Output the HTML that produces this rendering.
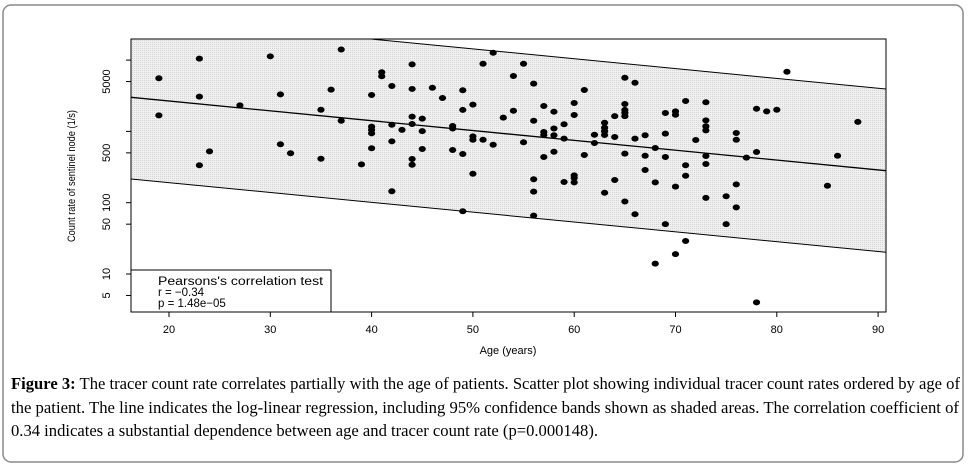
<!DOCTYPE html>
<html><head><meta charset="utf-8"><style>
html,body{margin:0;padding:0;background:#fff;width:969px;height:467px;overflow:hidden}
svg{display:block}
text{font-family:"Liberation Sans",sans-serif}
</style></head><body>
<svg id="chart" width="969" height="467" viewBox="0 0 969 467" xmlns="http://www.w3.org/2000/svg">
<defs>
<pattern id="dots" width="2" height="2" patternUnits="userSpaceOnUse"><rect width="2" height="2" fill="#f0f0f0"/><rect width="1" height="1" fill="#d4d4d4"/></pattern>
<clipPath id="plotclip"><rect x="131" y="39" width="755" height="273"/></clipPath>
</defs>
<rect x="3" y="5" width="960" height="457" rx="8" fill="#fff" stroke="#8a8a8a" stroke-width="1.5"/>
<g id="band" clip-path="url(#plotclip)"></g>
<g id="marks"></g>
<rect x="131" y="39" width="755" height="273" fill="none" stroke="#000" stroke-width="1"/>
<g id="axes"></g>
<text transform="translate(75,176) rotate(-90)" text-anchor="middle" font-size="11" textLength="132" lengthAdjust="spacingAndGlyphs">Count rate of sentinel node (1/s)</text>
<text x="508" y="354" text-anchor="middle" font-size="11">Age (years)</text>
<g>
<rect x="131" y="270" width="200" height="42" fill="#fff" stroke="#000" stroke-width="1"/>
<text x="158" y="285" font-size="11.5" textLength="165" lengthAdjust="spacingAndGlyphs">Pearsons's correlation test</text>
<text x="158" y="296" font-size="11.5">r = −0.34</text>
<text x="158" y="307" font-size="11.5">p = 1.48e−05</text>
</g>
<g font-size="17">
<text x="11" y="389" textLength="949" lengthAdjust="spacingAndGlyphs" style="font-family:'Liberation Serif',serif"><tspan font-weight="bold">Figure 3:</tspan> The tracer count rate correlates partially with the age of patients. Scatter plot showing individual tracer count rates ordered by age of</text>
<text x="11" y="413" textLength="948" lengthAdjust="spacingAndGlyphs" style="font-family:'Liberation Serif',serif">the patient. The line indicates the log-linear regression, including 95% confidence bands shown as shaded areas. The correlation coefficient of</text>
<text x="11" y="436" textLength="587" lengthAdjust="spacingAndGlyphs" style="font-family:'Liberation Serif',serif">0.34 indicates a substantial dependence between age and tracer count rate (p=0.000148).</text>
</g>
</svg>
<script>
const ages = [19,19,23,23,23,24,27,30,31,31,32,35,35,36,37,37,39,40,40,40,40,40,41,41,42,42,42,42,43,44,44,44,44,44,44,45,45,45,46,47,48,48,48,49,49,49,49,50,50,50,50,51,51,52,52,
55,54,54,53,55,56,56,56,56,56,57,57,57,57,58,58,58,58,59,59,59,60,60,60,60,60,61,61,62,62,63,63,63,63,63,64,64,64,65,65,65,65,65,65,65,66,66,66,67,67,67,68,68,68,69,69,69,69,70,70,70,70,71,71,71,71,72,73,73,73,73,73,73,73,75,75,76,76,76,76,77,78,78,78,79,80,81,85,86,88];
const counts = [5560,1680,10500,3070,335,525,2320,11300,3310,660,493,2010,414,3850,14100,1410,345,3240,1165,1050,940,580,6750,5930,4340,1240,726,145,1050,8710,3940,1610,1270,410,341,1510,1010,566,4100,2940,1190,1100,548,3770,2000,482,76,2370,853,765,255,8900,765,12700,650,
8900,5980,1950,1560,703,4670,1410,213,143,66,2270,982,891,438,1890,1100,882,519,1260,791,195,2500,1700,242,222,193,3810,467,899,687,1320,1130,1010,891,138,1640,834,208,5660,2420,2000,1830,1640,487,104,4820,791,69,882,456,288,585,193,14,1810,929,438,50,1910,1710,168,19,2670,335,239,29,757,2560,1430,1180,1035,452,349,117,123,50,950,765,181,86,428,2080,514,4,1910,2010,6870,173,456,1360];
const xTicks = [20,30,40,50,60,70,80,90];
const yTicks = [10000,5000,1000,500,100,50,10,5];
const yTickLabels = ["","5000","","500","100","50","10","5"];
const fitAges = [16.25,90.8];
const fitLog = [3.478,2.449];
const bandHalf = [1.145];

const NS="http://www.w3.org/2000/svg";
function xs(a){return 169+(a-20)*10.13;}
function ys(v){return 274-(Math.log10(v)-1)*71.3;}
function ysl(l){return 274-(l-1)*71.3;}
function mk(tag,attrs,parent){const e=document.createElementNS(NS,tag);for(const k in attrs)e.setAttribute(k,attrs[k]);parent.appendChild(e);return e;}

const band=document.getElementById('band');
const x0=xs(fitAges[0]),x1=xs(fitAges[1]);
const poly=mk('polygon',{points:`${x0},${ysl(fitLog[0]+bandHalf[0])} ${x1},${ysl(fitLog[1]+bandHalf[0])} ${x1},${ysl(fitLog[1]-bandHalf[0])} ${x0},${ysl(fitLog[0]-bandHalf[0])}`,fill:'url(#dots)'},band);


[[0,'upper-confidence-line'],[1,'regression-line'],[2,'lower-confidence-line']].forEach(([i,n])=>{
  const off=[bandHalf[0],0,-bandHalf[0]][i];
  const l=mk('line',{x1:x0,y1:ysl(fitLog[0]+off),x2:x1,y2:ysl(fitLog[1]+off),stroke:'#000','stroke-width':i===1?1.3:1},band);
  
  
});
const marks=document.getElementById('marks');
ages.forEach((a,i)=>{
  const c=mk('ellipse',{cx:xs(a),cy:ys(counts[i]),rx:3.6,ry:3,fill:'#000'},marks);
  
  
});
const axes=document.getElementById('axes');
xTicks.forEach(t=>{
  const l=mk('line',{x1:xs(t),y1:312,x2:xs(t),y2:317,stroke:'#000'},axes);
  
  
  const tx=mk('text',{x:xs(t),y:333,'text-anchor':'middle','font-size':11},axes);
  tx.textContent=t;
  
  
});
yTicks.forEach((t,i)=>{
  const l=mk('line',{x1:126,y1:ys(t),x2:131,y2:ys(t),stroke:'#000'},axes);
  
  
  if(yTickLabels[i]){
    const tx=mk('text',{transform:`translate(110,${ys(t)}) rotate(-90)`,'text-anchor':'middle','font-size':11},axes);
    tx.textContent=yTickLabels[i];
    
    
  }
});
</script>
</body></html>
